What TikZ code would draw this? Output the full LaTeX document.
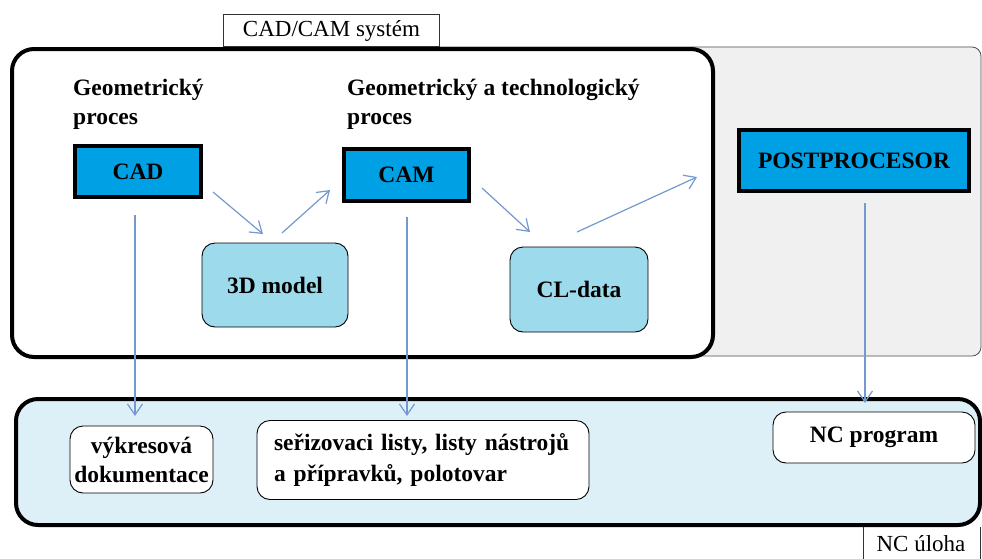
\documentclass[tikz,border=0pt]{standalone}
\usepackage{fontspec}
\setmainfont{Liberation Serif}
\usetikzlibrary{arrows.meta}
\definecolor{boxblue}{HTML}{00A1E4}
\definecolor{dataBlue}{HTML}{9DDAEB}
\definecolor{ncBlue}{HTML}{DDF0F8}
\definecolor{panelGray}{HTML}{F0F0F0}
\definecolor{arrowBlue}{HTML}{7399CF}
\tikzset{
  bigfont/.style={font=\fontsize{23.5}{29}\selectfont\bfseries},
  regfont/.style={font=\fontsize{23}{28}\selectfont},
  mainbox/.style={draw=black,line width=4pt,fill=boxblue,bigfont,inner sep=0pt},
  databox/.style={draw=black,line width=0.9pt,fill=dataBlue,rounded corners=13pt,bigfont,inner sep=0pt},
  outbox/.style={draw=black,line width=0.9pt,fill=white,rounded corners=13pt,bigfont,inner sep=0pt},
  heading/.style={bigfont,inner sep=0pt,align=left},
  flow/.style={draw=arrowBlue,line width=1.2pt,-{Straight Barb[length=11pt,width=15pt,line width=1.2pt]}},
}
\begin{document}
\begin{tikzpicture}[x=1pt,y=-1pt]
\useasboundingbox (0,0) rectangle (982,558);
% panels
\draw[draw=black!70,line width=0.8pt,fill=panelGray,rounded corners=9pt] (300,47) rectangle (981,356);
\draw[line width=4pt,fill=white,rounded corners=22pt] (12,49) rectangle (713,357);
\node[draw=black!80,line width=0.9pt,fill=white,regfont,minimum width=216pt,minimum height=32pt,inner sep=0pt,anchor=south west] (sys) at (223,47) {CAD/CAM systém};
\draw[line width=4pt,fill=ncBlue,rounded corners=22pt] (16,399) rectangle (980,525);
\draw[draw=black!80,line width=0.9pt] (863,527) -- (863,560);
\draw[draw=black!80,line width=0.9pt] (980,527) -- (980,560);
\node[regfont,inner sep=0pt] (ncu) at (921,544) {NC úloha};
% headings (base = baseline of last line)
\node[heading,anchor=base west] (h1) at (73,124) {Geometrický\\proces};
\node[heading,anchor=base west] (h2) at (347,124) {Geometrický a technologický\\proces};
% main boxes
\node[mainbox,minimum width=126pt,minimum height=51pt] (cad) at (138,171.5) {CAD};
\node[mainbox,minimum width=125pt,minimum height=52pt] (cam) at (406.5,175) {CAM};
\node[mainbox,minimum width=230pt,minimum height=61pt] (post) at (854,160.5) {POSTPROCESOR};
% data boxes
\node[databox,minimum width=146pt,minimum height=84pt] (model) at (275,285) {3D model};
\node[databox,minimum width=138pt,minimum height=85pt] (cl) at (579,289.5) {CL-data};
% output boxes
\node[outbox,minimum width=143pt,minimum height=67pt,align=center] (doc) at (141.5,459.5) {výkresová\\dokumentace};
\node[outbox,minimum width=332pt,minimum height=79pt,align=left,text width=298pt,font=\fontsize{23.5}{31}\selectfont\bfseries] (sheets) at (423,460) {seřizovaci listy, listy nástrojů\\a přípravků, polotovar};
\node[outbox,minimum width=202pt,minimum height=51pt] (nc) at (874,437.5) {NC program};
% arrow end points
\coordinate (a1s) at (213,192); \coordinate (a1e) at (263,234);
\coordinate (a2s) at (282,233); \coordinate (a2e) at (330,190);
\coordinate (a3s) at (482,188); \coordinate (a3e) at (530,232);
\coordinate (a4s) at (577,232); \coordinate (a4e) at (697,177);
\coordinate (v1s) at (135,215); \coordinate (v1e) at (135,416);
\coordinate (v2s) at (407,217); \coordinate (v2e) at (407,416);
\coordinate (v3s) at (865,203); \coordinate (v3e) at (865,403);
\draw[flow] (a1s) -- (a1e);
\draw[flow] (a2s) -- (a2e);
\draw[flow] (a3s) -- (a3e);
\draw[flow] (a4s) -- (a4e);
\draw[flow] (v1s) -- (v1e);
\draw[flow] (v2s) -- (v2e);
\draw[flow] (v3s) -- (v3e);
\end{tikzpicture}
\end{document}
